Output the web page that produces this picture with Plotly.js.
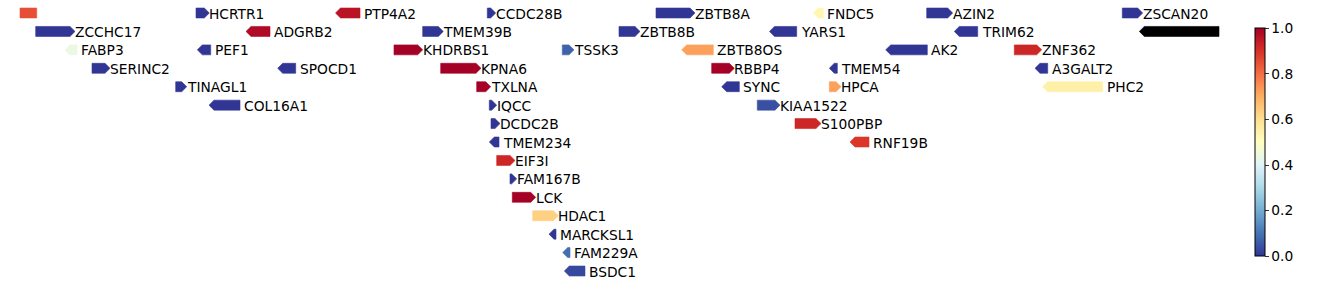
<!DOCTYPE html>
<html>
<head>
<meta charset="utf-8">
<script src="https://cdn.plot.ly/plotly-3.0.1.min.js"></script>
<style>html,body{margin:0;padding:0;background:#fff;}#chart{width:1338px;height:285px;}</style>
</head>
<body>
<div id="chart"></div>
<script>
// ---- data (gene tracks) ----
const geneNames = ["", "HCRTR1", "PTP4A2", "CCDC28B", "ZBTB8A", "FNDC5", "AZIN2", "ZSCAN20",
  "ZCCHC17", "ADGRB2", "TMEM39B", "ZBTB8B", "YARS1", "TRIM62", "",
  "FABP3", "PEF1", "KHDRBS1", "TSSK3", "ZBTB8OS", "AK2", "ZNF362",
  "SERINC2", "SPOCD1", "KPNA6", "RBBP4", "TMEM54", "A3GALT2",
  "TINAGL1", "TXLNA", "SYNC", "HPCA", "PHC2",
  "COL16A1", "IQCC", "KIAA1522",
  "DCDC2B", "S100PBP",
  "TMEM234", "RNF19B",
  "EIF3I", "FAM167B", "LCK", "HDAC1", "MARCKSL1", "FAM229A", "BSDC1"];
const geneRows = [0, 0, 0, 0, 0, 0, 0, 0,
  1, 1, 1, 1, 1, 1, 1,
  2, 2, 2, 2, 2, 2, 2,
  3, 3, 3, 3, 3, 3,
  4, 4, 4, 4, 4,
  5, 5, 5,
  6, 6,
  7, 7,
  8, 9, 10, 11, 12, 13, 14];
const geneStarts = [20, 196, 335.5, 487.3, 656, 813.3, 926.7, 1122.3,
  35.7, 246, 422.7, 619, 769.5, 954.3, 1139.3,
  65, 197.3, 394, 562.3, 681.7, 885.7, 1014.3,
  92, 277.7, 440.7, 711.7, 829.3, 1035,
  175.7, 476.7, 721.7, 829.3, 1042.7,
  209, 489.3, 757.3,
  491, 795,
  489.3, 850,
  496.7, 510, 512.3, 532.7, 549, 562.7, 564.3];
const geneEnds = [36.7, 209.3, 360, 495.7, 695, 823.3, 952.7, 1142.7,
  75, 270, 443.3, 640, 796.7, 977.7, 1219,
  77, 210.7, 422.7, 574, 713.3, 927.3, 1041.7,
  110, 295.7, 481, 734.3, 837.3, 1047.7,
  186.7, 490.7, 739.3, 841, 1102.7,
  240, 496.7, 780,
  500, 821,
  499, 869,
  515, 516.7, 535.7, 558.3, 556, 570, 585];
const geneStrands = [0, 1, -1, 1, 1, -1, 1, 1,
  1, -1, 1, 1, -1, -1, -1,
  -1, -1, 1, 1, -1, -1, 1,
  1, -1, 1, 1, -1, -1,
  1, 1, -1, 1, -1,
  -1, 1, 1,
  1, 1,
  -1, -1,
  1, 1, 1, 1, -1, -1, -1];
const geneValues = [0.85, 0.0, 0.96, 0.0, 0.0, 0.53, 0.0, 0.0,
  0.0, 0.98, 0.0, 0.0, 0.0, 0.0, null,
  0.44, 0.0, 1.0, 0.07, 0.72, 0.0, 0.92,
  0.0, 0.0, 1.0, 1.0, 0.0, 0.0,
  0.0, 1.0, 0.0, 0.72, 0.55,
  0.0, 0.0, 0.04,
  0.0, 0.92,
  0.0, 0.89,
  0.92, 0.0, 1.0, 0.63, 0.0, 0.09, 0.03];
const colorbarTicks = [0.0, 0.2, 0.4, 0.6, 0.8, 1.0];

// ---- colour scale (RdYlBu reversed) ----
const stopHex = ["#313695", "#4575b4", "#74add1", "#abd9e9", "#e0f3f8", "#ffffbf",
  "#fee090", "#fdae61", "#f46d43", "#d73027", "#a50026"];
const colorscale = stopHex.map((c, i) => [i / (stopHex.length - 1), c]);
function hexToRgb(h) { return [1, 3, 5].map(i => parseInt(h.substr(i, 2), 16)); }
function colorFor(v) {
  if (v === null || v === undefined || isNaN(v)) return "#000000";
  let t = Math.max(0, Math.min(1, v));
  const n = stopHex.length - 1;
  let i = Math.min(n - 1, Math.floor(t * n));
  const f = t * n - i;
  const a = hexToRgb(stopHex[i]), b = hexToRgb(stopHex[i + 1]);
  const c = a.map((x, k) => Math.round(x + (b[k] - x) * f));
  return "rgb(" + c.join(",") + ")";
}

// ---- geometry helpers ----
const HEAD = 5;      // arrow head length (x units)
const HALF = 0.27;   // half arrow height (row units)
const LABEL_FONT = {family: "DejaVu Sans, sans-serif", size: 13.8, color: "#000"};

const traces = [];
const annotations = [];
for (let i = 0; i < geneNames.length; i++) {
  const s = geneStarts[i], e = geneEnds[i], y = geneRows[i], st = geneStrands[i];
  let xs, ys;
  if (st > 0) {
    const hb = Math.max(s, e - HEAD);
    xs = [s, hb, e, hb, s, s];
    ys = [y - HALF, y - HALF, y, y + HALF, y + HALF, y - HALF];
  } else if (st < 0) {
    const hb = Math.min(e, s + HEAD);
    xs = [e, hb, s, hb, e, e];
    ys = [y - HALF, y - HALF, y, y + HALF, y + HALF, y - HALF];
  } else {
    xs = [s, e, e, s, s];
    ys = [y - HALF, y - HALF, y + HALF, y + HALF, y - HALF];
  }
  const col = colorFor(geneValues[i]);
  traces.push({
    type: "scatter", mode: "lines", x: xs, y: ys, fill: "toself",
    fillcolor: col, line: {width: 0.6, color: col},
    name: geneNames[i] || "gene", hoverinfo: "name", showlegend: false
  });
  if (geneNames[i]) {
    annotations.push({
      x: e + (st < 0 ? 5 : 0.8), y: y, xref: "x", yref: "y",
      text: geneNames[i], showarrow: false, xanchor: "left", yanchor: "middle",
      xshift: -2, yshift: -0.5, font: LABEL_FONT, borderpad: 0
    });
  }
}

// colour bar holder
traces.push({
  type: "scatter", mode: "markers", x: [-100, -100], y: [0, 0],
  hoverinfo: "skip", showlegend: false,
  marker: {
    color: [0, 1], cmin: 0, cmax: 1, colorscale: colorscale, showscale: true, opacity: 0,
    colorbar: {
      x: 1255.3 / 1338, xanchor: "left", xpad: 0, ypad: 0,
      y: 1 - 142.2 / 285, yanchor: "middle",
      len: 228, lenmode: "pixels", thickness: 10, thicknessmode: "pixels",
      outlinewidth: 1, outlinecolor: "#000",
      tickvals: colorbarTicks, ticktext: colorbarTicks.map(v => v.toFixed(1)),
      ticks: "outside", ticklen: 3.5, tickwidth: 0.8, tickcolor: "#000",
      tickfont: {family: "DejaVu Sans, sans-serif", size: 13.8, color: "#000"}
    }
  }
});

const rowPx = 18.43, row0Px = 13, H = 285;
const layout = {
  width: 1338, height: 285,
  margin: {l: 0, r: 0, t: 0, b: 0, pad: 0},
  paper_bgcolor: "#fff", plot_bgcolor: "#fff",
  showlegend: false,
  xaxis: {range: [0, 1338], visible: false, fixedrange: true},
  yaxis: {range: [(H - row0Px) / rowPx, -row0Px / rowPx], visible: false, fixedrange: true},
  annotations: annotations
};
Plotly.newPlot("chart", traces, layout, {displayModeBar: false, staticPlot: true});
</script>
</body>
</html>
